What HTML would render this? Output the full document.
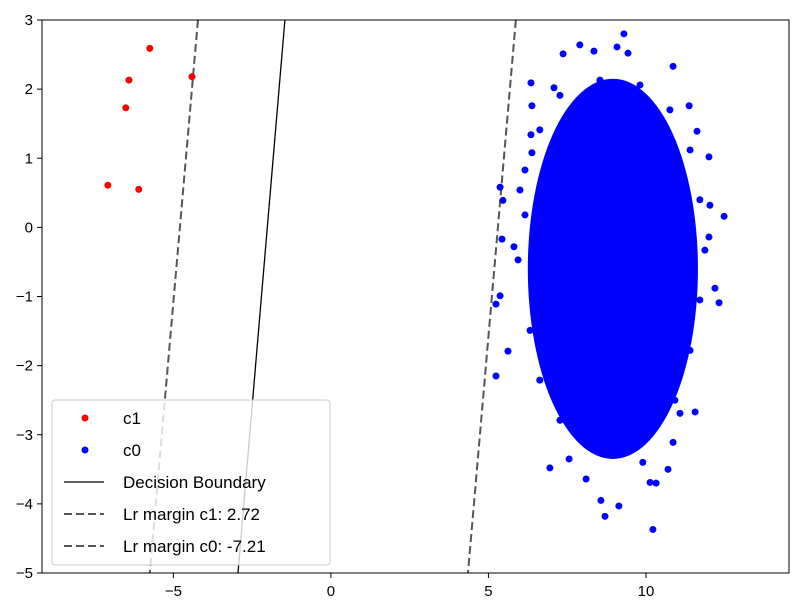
<!DOCTYPE html>
<html><head><meta charset="utf-8">
<style>
html,body{margin:0;padding:0;background:#fff;}
svg{display:block;font-family:"Liberation Sans","DejaVu Sans",sans-serif;}
</style></head>
<body>
<svg id="chart" width="798" height="607" viewBox="0 0 798 607" xmlns="http://www.w3.org/2000/svg">
</svg>
<script>
const xTicks = [-5, 0, 5, 10];
const yTicks = [3, 2, 1, 0, -1, -2, -3, -4, -5];
const c1X = [-5.75, -6.41, -4.41, -6.51, -7.08, -6.10];
const c1Y = [2.59, 2.13, 2.18, 1.73, 0.61, 0.55];
const c0CoreCenter = [8.95, -0.6];
const c0CoreRadius = [2.7, 2.75];
const c0X = [9.30,7.90,9.08,9.43,7.37,8.35,10.86,6.35,7.08,11.37,6.38,11.62,6.35,12.0,6.38,5.37,5.46,12.48,12.03,5.43,5.81,12.0,5.37,5.24,12.32,12.19,5.62,5.24,11.56,11.08,10.86,6.95,8.10,10.70,9.90,10.13,10.32,8.57,9.14,8.70,10.22,7.56,8.95,
  6.0,6.16,5.94,6.32,6.63,7.27,8.22,9.81,10.92,11.40,11.71,11.87,11.71,11.40,10.76,9.81,8.54,7.27,6.63,6.16];
const c0Y = [2.80,2.64,2.61,2.52,2.51,2.55,2.33,2.09,2.02,1.76,1.76,1.39,1.34,1.02,1.08,0.58,0.39,0.16,0.32,-0.17,-0.28,-0.14,-0.99,-1.11,-1.09,-0.88,-1.79,-2.15,-2.67,-2.69,-3.11,-3.48,-3.64,-3.50,-3.40,-3.69,-3.70,-3.95,-4.03,-4.18,-4.37,-3.35,-3.30,
  0.54,0.18,-0.47,-1.49,-2.21,-2.79,-3.15,-3.08,-2.50,-1.78,-1.05,-0.33,0.40,1.12,1.70,2.06,2.13,1.91,1.41,0.83];
const boundaryX = [-1.46, -2.95];
const marginC1X = [-4.22, -5.75];
const marginC0X = [5.87, 4.35];
const lineY = [3, -5];

const L=42,R=789,T=20,B=573;
const xMin=-9.17,xMax=14.54,yMin=-5,yMax=3;
const sx=v=>L+(v-xMin)/(xMax-xMin)*(R-L);
const sy=v=>T+(yMax-v)/(yMax-yMin)*(B-T);
const NS="http://www.w3.org/2000/svg";
const svg=document.getElementById('chart');
function mk(tag,attrs,parent){const e=document.createElementNS(NS,tag);for(const k in attrs)e.setAttribute(k,attrs[k]);(parent||svg).appendChild(e);return e;}

const clip=mk('clipPath',{id:'pc'});mk('rect',{x:L,y:T,width:R-L,height:B-T},clip);
const g=mk('g',{'clip-path':'url(#pc)'});



function line(xs,name,dash){
  const l=mk('line',{x1:sx(xs[0]),y1:sy(lineY[0]),x2:sx(xs[1]),y2:sy(lineY[1]),stroke:dash?'#555':'#000','stroke-width':dash?2:1.3,'stroke-dasharray':dash?'8,4':'none'},g);
  
  
}
line(boundaryX,'decision-boundary',false);
line(marginC1X,'margin-c1-line',true);
line(marginC0X,'margin-c0-line',true);

const core=mk('ellipse',{cx:sx(c0CoreCenter[0]),cy:sy(c0CoreCenter[1]),rx:sx(c0CoreCenter[0]+c0CoreRadius[0])-sx(c0CoreCenter[0]),ry:sy(c0CoreCenter[1]-c0CoreRadius[1])-sy(c0CoreCenter[1]),fill:'#0000ff'},g);


for(let i=0;i<c0X.length;i++){
  const c=mk('circle',{cx:sx(c0X[i]),cy:sy(c0Y[i]),r:3.5,fill:'#0000ff'},g);
  
  
}
for(let i=0;i<c1X.length;i++){
  const c=mk('circle',{cx:sx(c1X[i]),cy:sy(c1Y[i]),r:3.5,fill:'#ff0000'},g);
  
  
}

const fr=mk('rect',{x:L,y:T,width:R-L,height:B-T,fill:'none',stroke:'#000','stroke-width':1});



xTicks.forEach(t=>{
  const x=sx(t);
  mk('line',{x1:x,y1:B,x2:x,y2:B+5,stroke:'#000'});
  const tx=mk('text',{x:x,y:B+23,'text-anchor':'middle','font-size':15,fill:'#000'});
  tx.textContent=t<0?'\u2212'+Math.abs(t):String(t);
  
  
});
yTicks.forEach(t=>{
  const y=sy(t);
  mk('line',{x1:L-5,y1:y,x2:L,y2:y,stroke:'#000'});
  const tx=mk('text',{x:L-9,y:y+5,'text-anchor':'end','font-size':15,fill:'#000'});
  tx.textContent=t<0?'\u2212'+Math.abs(t):String(t);
  
  
});

const lg=mk('g',{});


mk('rect',{x:52,y:400,width:278,height:165,rx:3,fill:'#fff','fill-opacity':0.8,stroke:'#ccc'},lg);
const entries=[['c1','dot','#ff0000'],['c0','dot','#0000ff'],['Decision Boundary','solid','#000'],['Lr margin c1: 2.72','dash','#555'],['Lr margin c0: -7.21','dash','#555']];
entries.forEach((e,i)=>{
  const y=418+i*32;
  const eg=mk('g',{},lg);
  
  
  if(e[1]==='dot')mk('circle',{cx:85,cy:y,r:3.5,fill:e[2]},eg);
  else mk('line',{x1:64,y1:y,x2:104,y2:y,stroke:e[2],'stroke-width':e[1]==='dash'?2:1.3,'stroke-dasharray':e[1]==='dash'?'8,4':'none'},eg);
  const t=mk('text',{x:123,y:y+6,'font-size':17,fill:'#000'},eg);
  t.textContent=e[0];
});
</script>
</body></html>
